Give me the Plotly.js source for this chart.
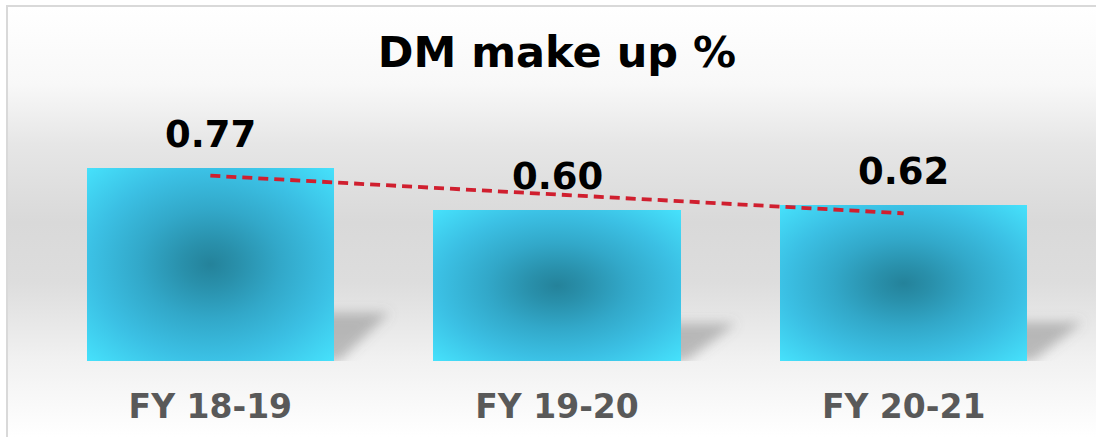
<!DOCTYPE html>
<html>
<head>
<meta charset="utf-8">
<script src="https://cdn.plot.ly/plotly-3.0.1.min.js"></script>
<style>
  html, body { margin: 0; padding: 0; background: #ffffff; }
  #frame { position: absolute; left: 0; top: 0; width: 1096px; height: 437px; background: #ffffff; overflow: hidden; }
  #panel {
    position: absolute; left: 6px; top: 5px; right: 0; bottom: 0;
    border-left: 2px solid #d9d9d9; border-top: 2px solid #d9d9d9;
    background: linear-gradient(to bottom, #ffffff 0%, #f8f8f8 18%, #e6e6e6 32%, #d9d9d9 50%, #dddddd 64%, #f1f1f1 82%, #ffffff 100%);
  }
  #chart { position: absolute; left: 0; top: 0; width: 1096px; height: 437px; }
</style>
</head>
<body>
<div id="frame">
  <div id="panel"></div>
  <div id="chart"></div>
</div>
<script>
// Fiscal years and the DM make-up share for each
const categories = ['FY 18-19', 'FY 19-20', 'FY 20-21'];
const makeUp = [0.77, 0.60, 0.62];

const FONT = 'DejaVu Sans, Verdana, sans-serif';
const BAR_WIDTH = 0.713;
const idx = categories.map((_, i) => i);

// Least-squares linear trend across the three years
const n = makeUp.length;
const mx = idx.reduce((a, b) => a + b, 0) / n;
const my = makeUp.reduce((a, b) => a + b, 0) / n;
let sxy = 0, sxx = 0;
idx.forEach((x, i) => { sxy += (x - mx) * (makeUp[i] - my); sxx += (x - mx) * (x - mx); });
const slope = sxy / sxx;
const trendY = idx.map(x => my + slope * (x - mx));

const bars = {
  type: 'bar',
  x: idx,
  y: makeUp,
  width: BAR_WIDTH,
  marker: { color: '#3bbfe3', line: { width: 0 } },
  hoverinfo: 'none',
  showlegend: false
};

const trend = {
  type: 'scatter',
  mode: 'lines',
  x: idx,
  y: trendY,
  line: { color: '#d01f2f', width: 3.8, dash: '10px,6px' },
  hoverinfo: 'none',
  showlegend: false
};

// Soft perspective shadow cast behind each bar
const half = BAR_WIDTH / 2;
const shadows = makeUp.map((v, i) => {
  const h = v * 0.25;
  const path = 'M' + (i - half + 0.10) + ',0' +
               ' L' + (i + half + 0.015) + ',0' +
               ' L' + (i + half + 0.16) + ',' + h +
               ' L' + (i - half + 0.20) + ',' + h + ' Z';
  return {
    type: 'path', xref: 'x', yref: 'y', layer: 'below', path: path,
    fillcolor: 'rgba(110,110,110,0.42)', line: { width: 0 }
  };
});

// Value labels above the bars
const labels = makeUp.map((v, i) => ({
  x: i, y: v, xref: 'x', yref: 'y',
  text: v.toFixed(2),
  showarrow: false, yanchor: 'bottom', xanchor: 'center', yshift: 10,
  font: { family: FONT, size: 37, color: '#000000', weight: 'bold' }
}));

const layout = {
  width: 1096,
  height: 437,
  paper_bgcolor: 'rgba(0,0,0,0)',
  plot_bgcolor: 'rgba(0,0,0,0)',
  margin: { l: 37, r: 2, t: 110, b: 76, pad: 0 },
  title: {
    text: 'DM make up %',
    x: 557 / 1096, xref: 'container', xanchor: 'center',
    y: 1 - 52 / 437, yref: 'container', yanchor: 'middle',
    font: { family: FONT, size: 43, color: '#000000', weight: 'bold' }
  },
  xaxis: {
    range: [-0.5, 2.549],
    tickmode: 'array', tickvals: idx, ticktext: categories,
    showgrid: false, zeroline: false, showline: false, ticks: '',
    ticklabelstandoff: 23,
    tickfont: { family: FONT, size: 33, color: '#595959', weight: 'bold' },
    fixedrange: true
  },
  yaxis: {
    range: [0, 1.0], visible: false, showgrid: false, zeroline: false, fixedrange: true
  },
  shapes: shadows,
  annotations: labels,
  bargap: 0,
  showlegend: false
};

const gd = document.getElementById('chart');
Plotly.newPlot(gd, [bars, trend], layout, { displayModeBar: false, staticPlot: true }).then(() => {
  const svgNS = 'http://www.w3.org/2000/svg';
  const defs = gd.querySelector('svg.main-svg defs');

  // Radial glow: dark teal centre fading to bright cyan at the corners
  const grad = document.createElementNS(svgNS, 'radialGradient');
  grad.setAttribute('id', 'barGlow');
  grad.setAttribute('cx', '0.5');
  grad.setAttribute('cy', '0.5');
  grad.setAttribute('r', '0.71');
  [[0, '#24829a'], [0.16, '#2990ab'], [0.4, '#32a8c9'], [0.68, '#3bc0e4'], [1, '#46e2fc']].forEach(([o, c]) => {
    const s = document.createElementNS(svgNS, 'stop');
    s.setAttribute('offset', o);
    s.setAttribute('stop-color', c);
    grad.appendChild(s);
  });
  defs.appendChild(grad);

  const blur = document.createElementNS(svgNS, 'filter');
  blur.setAttribute('id', 'shadowBlur');
  blur.setAttribute('x', '-50%'); blur.setAttribute('y', '-50%');
  blur.setAttribute('width', '200%'); blur.setAttribute('height', '200%');
  const fe = document.createElementNS(svgNS, 'feGaussianBlur');
  fe.setAttribute('stdDeviation', '6');
  blur.appendChild(fe);
  defs.appendChild(blur);

  gd.querySelectorAll('.barlayer .point path').forEach(p => { p.style.fill = 'url(#barGlow)'; });
  gd.querySelectorAll('.shapelayer path').forEach(p => { p.setAttribute('filter', 'url(#shadowBlur)'); });
});
</script>
</body>
</html>
